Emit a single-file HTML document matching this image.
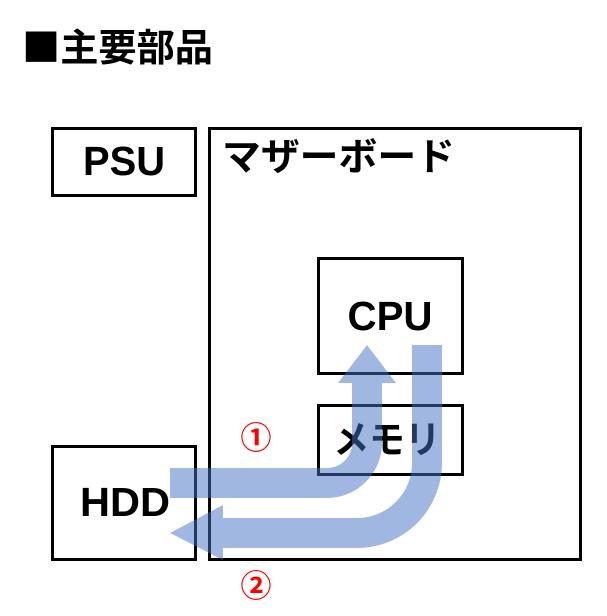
<!DOCTYPE html>
<html><head><meta charset="utf-8"><style>
html,body{margin:0;padding:0;background:#fff;}
body{width:607px;height:616px;overflow:hidden;position:relative;}
</style></head><body>
<svg width="607" height="616" xmlns="http://www.w3.org/2000/svg" style="position:absolute;left:0;top:0">
<g font-family="'Liberation Sans','Noto Sans CJK JP',sans-serif" font-weight="bold">
<text x="22" y="61" font-size="38" fill="#000" font-family="'Noto Sans CJK JP',sans-serif" textLength="191" lengthAdjust="spacingAndGlyphs">■主要部品</text>
<g fill="none" stroke="#000" stroke-width="3">
<rect x="52.5" y="128.5" width="143" height="67"/>
<rect x="209.5" y="128.5" width="371" height="431"/>
<rect x="318.5" y="258.5" width="144" height="115"/>
<rect x="318.5" y="405.5" width="144" height="69"/>
<rect x="52.5" y="446.5" width="143" height="113"/>
</g>
<text x="124" y="175" font-size="41" text-anchor="middle" textLength="82" lengthAdjust="spacingAndGlyphs">PSU</text>
<text x="222" y="170" font-size="38" font-weight="bold" font-family="'Noto Sans CJK JP',sans-serif" textLength="233" lengthAdjust="spacingAndGlyphs">マザーボード</text>
<text x="390" y="330" font-size="41" text-anchor="middle" textLength="85" lengthAdjust="spacingAndGlyphs">CPU</text>
<text x="387" y="453" font-size="38" text-anchor="middle" font-family="'Noto Sans CJK JP',sans-serif" textLength="107" lengthAdjust="spacingAndGlyphs">メモリ</text>
<text x="125" y="516" font-size="41" text-anchor="middle" textLength="90" lengthAdjust="spacingAndGlyphs">HDD</text>
<text x="256" y="449" font-size="31" fill="#f00" text-anchor="middle" font-family="'Noto Sans CJK JP',sans-serif">①</text>
<text x="256" y="597" font-size="31" fill="#f00" text-anchor="middle" font-family="'Noto Sans CJK JP',sans-serif">②</text>
</g>
<g opacity="0.5">
<path d="M170,483 H327 A40 40 0 0 0 367 443 V382" fill="none" stroke="#4472c4" stroke-width="30"/>
<polygon points="338,383 396,383 367,345" fill="#4472c4"/>
<path d="M427,345 V463 A70 70 0 0 1 357 533 H222" fill="none" stroke="#4472c4" stroke-width="30"/>
<polygon points="223,505 223,560 170,533" fill="#4472c4"/>
</g>
</svg>
</body></html>
